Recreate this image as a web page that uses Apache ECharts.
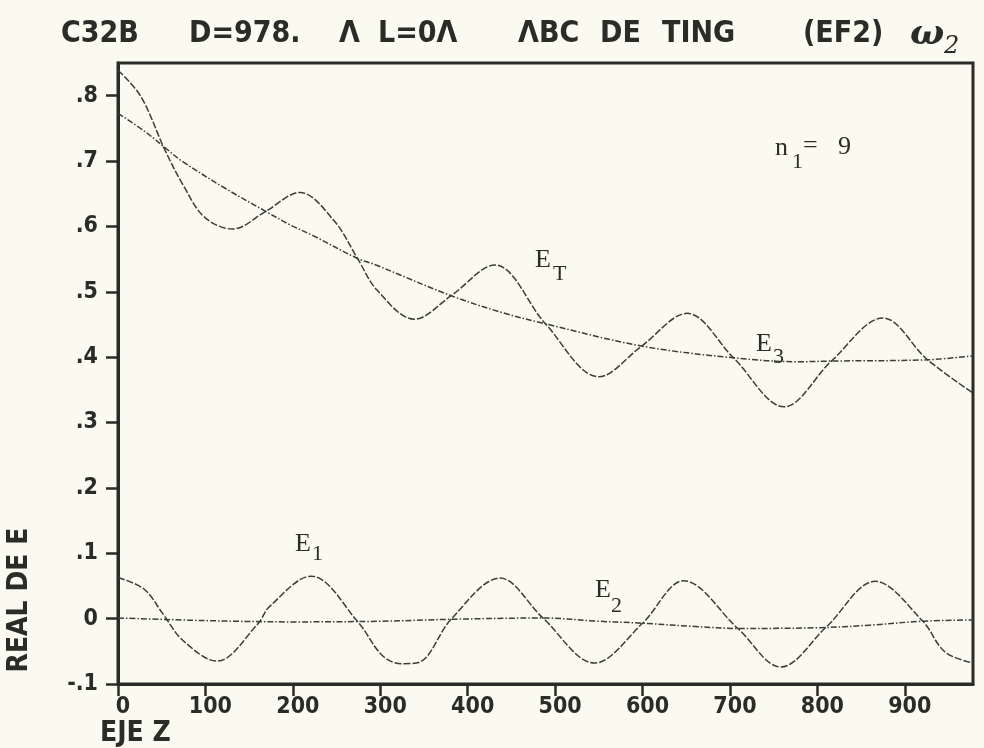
<!DOCTYPE html>
<html>
<head>
<meta charset="utf-8">
<script src="https://cdn.jsdelivr.net/npm/echarts@6/dist/echarts.min.js"></script>
<style>
html,body{margin:0;padding:0;background:#fbfaf1;}
#chart{width:984px;height:748px;}
</style>
</head>
<body>
<div id="chart"></div>
<script>
// ---- data ----
const zET = [0, 26, 54, 75, 99, 131, 169, 208, 247, 274, 296, 339, 381, 431, 489, 550, 599, 651, 704, 762, 816, 875, 926, 978];
const vET = [0.839, 0.799, 0.716, 0.662, 0.614, 0.596, 0.623, 0.652, 0.609, 0.551, 0.503, 0.458, 0.494, 0.541, 0.451, 0.370, 0.417, 0.467, 0.399, 0.324, 0.394, 0.460, 0.396, 0.345];

const zE3 = [0, 31, 56, 73, 123, 169, 196, 223, 274, 295, 381, 440, 489, 599, 704, 779, 816, 926, 978];
const vE3 = [0.773, 0.745, 0.718, 0.700, 0.658, 0.623, 0.603, 0.586, 0.551, 0.541, 0.494, 0.468, 0.451, 0.417, 0.399, 0.393, 0.394, 0.396, 0.402];

const zE1 = [0, 30, 51, 74, 113, 160, 173, 221, 275, 302, 324, 344, 381, 437, 486, 545, 600, 647, 709, 758, 810, 866, 920, 946, 978];
const vE1 = [0.063, 0.045, 0.008, -0.033, -0.065, -0.008, 0.018, 0.065, -0.006, -0.056, -0.069, -0.067, -0.001, 0.062, 0.001, -0.068, -0.007, 0.058, -0.015, -0.074, -0.013, 0.057, -0.003, -0.051, -0.068];

const zE2 = [0, 100, 200, 300, 381, 486, 550, 600, 660, 709, 800, 860, 920, 978];
const vE2 = [0.001, -0.003, -0.005, -0.004, -0.001, 0.001, -0.004, -0.007, -0.012, -0.015, -0.014, -0.010, -0.004, -0.002];

const xTicks = [0, 100, 200, 300, 400, 500, 600, 700, 800, 900];
const yTicks = [-0.1, 0, 0.1, 0.2, 0.3, 0.4, 0.5, 0.6, 0.7, 0.8];
const yTickLabels = ['-.1', '0', '.1', '.2', '.3', '.4', '.5', '.6', '.7', '.8'];

const titleParts = ['C32B', 'D=978.', 'Λ', 'L=0Λ', 'ΛBC', 'DE', 'TING', '(EF2)'];
const yName = 'REAL DE E';
const xName = 'EJE Z';

// ---- chart ----
const pairs = (zs, vs) => zs.map((z, i) => [z, vs[i]]);
const ink = '#2b2b27';
const lineInk = '#3c3c38';
const sansC = "'DejaVu Sans Condensed', 'DejaVu Sans', sans-serif";
const serif = "'Liberation Serif', 'DejaVu Serif', serif";

const chart = echarts.init(document.getElementById('chart'), null, {renderer: 'canvas'});

function curve(name, zs, vs, dash) {
  return {
    name, type: 'line', data: pairs(zs, vs), smooth: 0.35,
    showSymbol: false, symbol: 'none',
    lineStyle: {color: lineInk, width: 1.5, type: dash},
    silent: true, animation: false
  };
}

function txt(text, x, y, size, family, weight) {
  return {
    type: 'text', x, y, silent: true,
    style: {text, fontSize: size, fontFamily: family, fontWeight: weight || 'normal', fill: ink,
      textAlign: 'left', textVerticalAlign: 'middle'}
  };
}

const titleX = [61, 189, 339, 378, 518, 600, 662, 803];
const graphics = [];
titleParts.forEach((t, i) => graphics.push(txt(t, titleX[i], 34, 30, sansC, 'bold')));
graphics.push({type: 'text', x: 910, y: 35, silent: true,
  style: {text: 'ω', fontSize: 36, fontFamily: "'DejaVu Serif', serif", fontStyle: 'italic', fontWeight: 'bold', fill: ink, textVerticalAlign: 'middle'}});
graphics.push({type: 'text', x: 944, y: 47, silent: true,
  style: {text: '2', fontSize: 24, fontFamily: "'DejaVu Serif', serif", fontStyle: 'italic', fill: ink, textVerticalAlign: 'middle'}});
graphics.push({type: 'text', x: 20, y: 600, rotation: Math.PI / 2, silent: true,
  style: {text: yName, fontSize: 28, fontFamily: sansC, fontWeight: 'bold', fill: ink, textAlign: 'center', textVerticalAlign: 'middle'}});
graphics.push(txt(xName, 100, 734, 28, sansC, 'bold'));

// curve labels
const lab = [
  ['E', 535, 260, 26], ['T', 553, 274, 22],
  ['E', 756, 344, 26], ['3', 773, 357, 22],
  ['E', 295, 544, 26], ['1', 312, 554, 22],
  ['E', 595, 590, 26], ['2', 611, 606, 22],
  ['n', 775, 148, 26], ['1', 792, 162, 22], ['=', 803, 146, 26], ['9', 838, 147, 26]
];
lab.forEach(l => graphics.push(txt(l[0], l[1], l[2], l[3], serif)));

const option = {
  backgroundColor: '#fbfaf1',
  animation: false,
  grid: {left: 118, top: 63, width: 855, height: 621, show: true,
    borderColor: ink, borderWidth: 3, backgroundColor: 'transparent'},
  xAxis: {
    type: 'value', min: 0, max: 978, interval: 100,
    axisLine: {show: true, onZero: false, lineStyle: {color: ink, width: 3}},
    axisTick: {show: true, inside: false, length: 12, lineStyle: {color: ink, width: 2.5}},
    splitLine: {show: false},
    axisLabel: {
      showMaxLabel: false, margin: 12, color: ink, fontSize: 23, fontWeight: 'bold',
      fontFamily: "'Liberation Sans Narrow', " + sansC, padding: [0, 0, 0, 10],
      formatter: v => (xTicks.indexOf(Math.round(v)) >= 0 && Math.abs(v - Math.round(v)) < 1e-6) ? String(Math.round(v)) : ''
    }
  },
  yAxis: {
    type: 'value', min: -0.1, max: 0.85, interval: 0.1,
    axisLine: {show: true, onZero: false, lineStyle: {color: ink, width: 3}},
    axisTick: {show: true, inside: false, length: 12, lineStyle: {color: ink, width: 2.5}},
    splitLine: {show: false},
    axisLabel: {
      showMaxLabel: false, margin: 20, color: ink, fontSize: 23, fontWeight: 'bold',
      fontFamily: sansC,
      formatter: v => {
        for (let i = 0; i < yTicks.length; i++) {
          if (Math.abs(v - yTicks[i]) < 1e-6) return yTickLabels[i];
        }
        return '';
      }
    }
  },
  series: [
    curve('ET', zET, vET, [7, 2]),
    curve('E3', zE3, vE3, [6, 2, 1.5, 2]),
    curve('E1', zE1, vE1, [7, 2]),
    curve('E2', zE2, vE2, [6, 2, 1.5, 2])
  ],
  graphic: graphics
};
chart.setOption(option);
</script>
</body>
</html>
